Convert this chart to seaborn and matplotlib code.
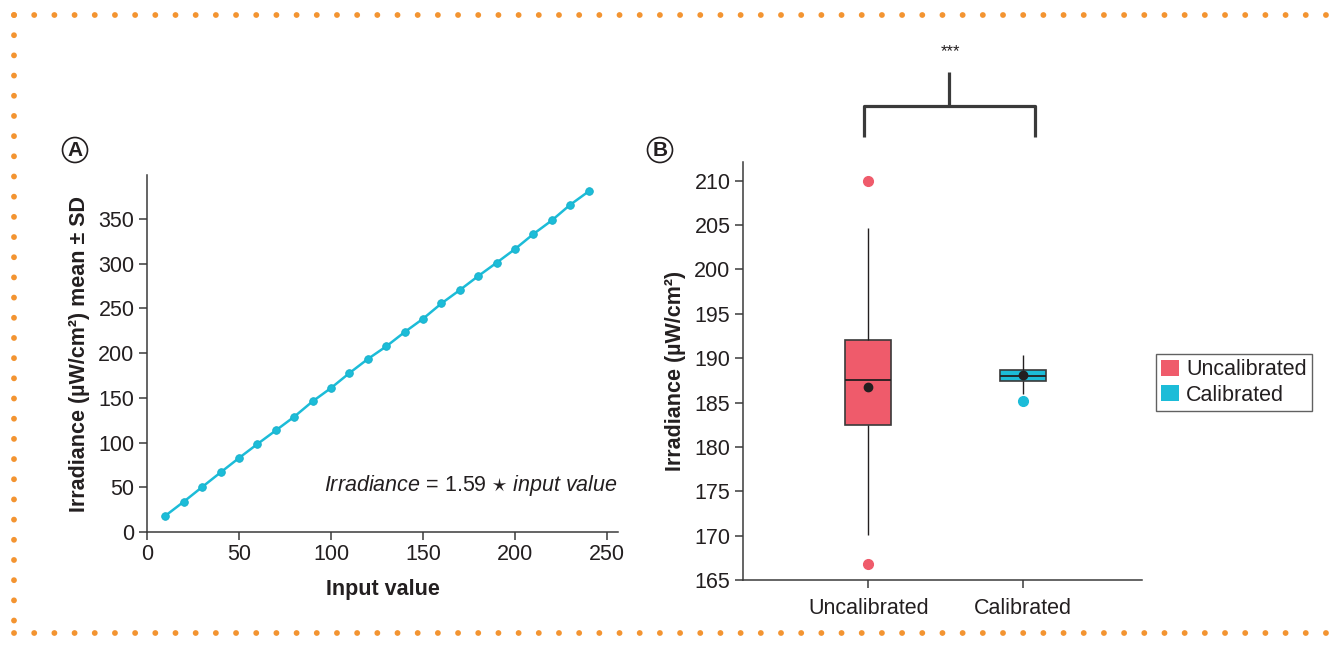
import numpy as np
import pandas as pd
import seaborn as sns
import matplotlib.pyplot as plt
from matplotlib.lines import Line2D
from matplotlib.patches import Patch, Ellipse

# panel A: irradiance vs input value
input_value = [10, 20, 30, 40, 50, 60, 70, 80, 90, 100, 110, 120,
               130, 140, 150, 160, 170, 180, 190, 200, 210, 220, 230, 240]
irradiance = [18.2, 33.9, 50.3, 66.6, 82.7, 98.3, 113.5, 128.8, 146.0, 160.9, 177.6, 193.3,
              207.4, 223.4, 238.3, 255.4, 270.4, 286.0, 300.9, 316.2, 333.0, 348.2, 365.7, 380.6]

# panel B: measurements per group (chosen to match the box stats in the figure)
uncalibrated = [166.8, 170.1, 173.2, 182.5, 184.1, 186.0, 187.5,
                188.4, 190.1, 192.0, 193.0, 204.7, 210.0]
calibrated = [185.2, 186.0, 187.3, 187.4, 187.9, 188.0, 188.0,
              188.6, 188.7, 188.7, 189.5, 189.7, 190.3]
groups = ["Uncalibrated", "Calibrated"]

RED = "#EF5B6B"
CYAN = "#1CBCD8"
DARK = "#231F20"
SPINE = "#3A3A3A"
FS = 15.5

sns.set_style("white")
plt.rcParams["font.family"] = ["Liberation Sans", "DejaVu Sans"]
plt.rcParams["mathtext.fontset"] = "custom"
plt.rcParams["mathtext.rm"] = "Liberation Sans"
plt.rcParams["mathtext.it"] = "Liberation Sans:italic"
plt.rcParams["font.size"] = FS
plt.rcParams["text.color"] = DARK
plt.rcParams["axes.labelcolor"] = DARK
plt.rcParams["xtick.color"] = DARK
plt.rcParams["ytick.color"] = DARK

W, H = 1343, 649
fig = plt.figure(figsize=(W / 100, H / 100), dpi=100)


def fx(px):
    return px / W


def fy(py):
    return 1 - py / H


def style_axes(ax):
    for s in ["top", "right"]:
        ax.spines[s].set_visible(False)
    for s in ["left", "bottom"]:
        ax.spines[s].set_color(SPINE)
        ax.spines[s].set_linewidth(1.1)
    ax.tick_params(axis="both", direction="out", length=6, width=1.1,
                   color=SPINE, labelsize=FS, pad=3, left=True, bottom=True)


# ---- A ----
axA = fig.add_axes([fx(147), fy(532), fx(618) - fx(147), fy(175) - fy(532)])
dfA = pd.DataFrame({"input": input_value, "irr": irradiance})
sns.lineplot(data=dfA, x="input", y="irr", ax=axA, color=CYAN, lw=1.8,
             marker="o", markersize=5.5, markeredgecolor="#17AFC9", markeredgewidth=0.6)
sns.scatterplot(data=dfA, x="input", y="irr", ax=axA, color="#0d3f4a", s=3, linewidth=0)
axA.set_xlim(0, 256)
axA.set_ylim(0, 399)
axA.set_xticks([0, 50, 100, 150, 200, 250])
axA.set_yticks([0, 50, 100, 150, 200, 250, 300, 350])
axA.set_xlabel("Input value", fontweight="bold", fontsize=FS, labelpad=10)
axA.set_ylabel("Irradiance (µW/cm²) mean ± SD", fontweight="bold", fontsize=FS, labelpad=6)
style_axes(axA)
axA.text(1.0, 0.13, r"$\it{Irradiance}$ = 1.59 $\star$ $\it{input\ value}$",
         transform=axA.transAxes, ha="right", va="center", fontsize=FS)

# ---- B ----
axB = fig.add_axes([fx(743), fy(580), fx(1142) - fx(743), fy(162) - fy(580)])
dfB = pd.DataFrame({
    "group": ["Uncalibrated"] * len(uncalibrated) + ["Calibrated"] * len(calibrated),
    "irr": uncalibrated + calibrated,
})
pal = {"Uncalibrated": RED, "Calibrated": CYAN}
sns.boxplot(data=dfB, x="group", y="irr", hue="group", order=groups, palette=pal,
            saturation=1, width=0.3, ax=axB, legend=False, showcaps=False, whis=1.5,
            linecolor=SPINE, linewidth=1.2,
            whiskerprops=dict(color=DARK, linewidth=1.0),
            medianprops=dict(color=DARK, linewidth=1.3),
            showmeans=True,
            meanprops=dict(marker="o", markerfacecolor=DARK, markeredgecolor=DARK, markersize=6))
# colour the outlier dots by group
for l in axB.lines:
    xs = np.asarray(l.get_xdata())
    if len(xs) == 0 or l.get_linestyle() != "None" or l.get_markerfacecolor() == DARK:
        continue
    c = RED if np.mean(xs) < 0.5 else CYAN
    l.set_marker("o")
    l.set_markerfacecolor(c)
    l.set_markeredgecolor(c)
    l.set_markersize(7)
axB.set_xlim(-0.81, 1.77)
axB.set_ylim(165, 212.1)
axB.set_yticks(np.arange(165, 211, 5))
axB.set_xlabel("")
axB.set_ylabel("Irradiance (µW/cm²)", fontweight="bold", fontsize=FS, labelpad=6)
style_axes(axB)
axB.tick_params(axis="x", pad=7)

# legend
handles = [Patch(facecolor=RED, edgecolor="none", label="Uncalibrated"),
           Patch(facecolor=CYAN, edgecolor="none", label="Calibrated")]
leg = fig.legend(handles=handles, loc="upper left", bbox_to_anchor=(fx(1156), fy(354)),
                 frameon=True, fancybox=False, fontsize=FS, handlelength=0.8,
                 handleheight=0.8, handletextpad=0.35, borderpad=0.25,
                 labelspacing=0.2, borderaxespad=0)
leg.get_frame().set_edgecolor(SPINE)
leg.get_frame().set_linewidth(1.0)

# significance bracket
bk = dict(color=SPINE, lw=2.3, solid_capstyle="butt", transform=fig.transFigure)
fig.add_artist(Line2D([fx(864), fx(864), fx(1035), fx(1035)],
                      [fy(137), fy(106), fy(106), fy(137)], **bk))
fig.add_artist(Line2D([fx(949), fx(949)], [fy(106), fy(72)], **bk))
fig.text(fx(950), fy(52), "***", ha="center", va="center", fontsize=12)

# panel letters in circles
for x, y, s in [(75, 150, "A"), (660, 150, "B")]:
    fig.add_artist(Ellipse((fx(x), fy(y)), 25 / W, 25 / H, transform=fig.transFigure,
                           facecolor="white", edgecolor=DARK, lw=1.2))
    fig.text(fx(x), fy(y) - 0.001, s, ha="center", va="center", fontsize=15,
             fontweight="bold", color=DARK)

# dotted orange frame
dot = dict(color="#F39431", lw=4.2, linestyle=(0, (0.01, 3.45)),
           dash_capstyle="round", transform=fig.transFigure)
fig.add_artist(Line2D([fx(14), fx(1340)], [fy(15), fy(15)], **dot))
fig.add_artist(Line2D([fx(14), fx(14)], [fy(15), fy(633)], **dot))
fig.add_artist(Line2D([fx(14), fx(1340)], [fy(633), fy(633)], **dot))

fig.savefig("out.png", dpi=100)
